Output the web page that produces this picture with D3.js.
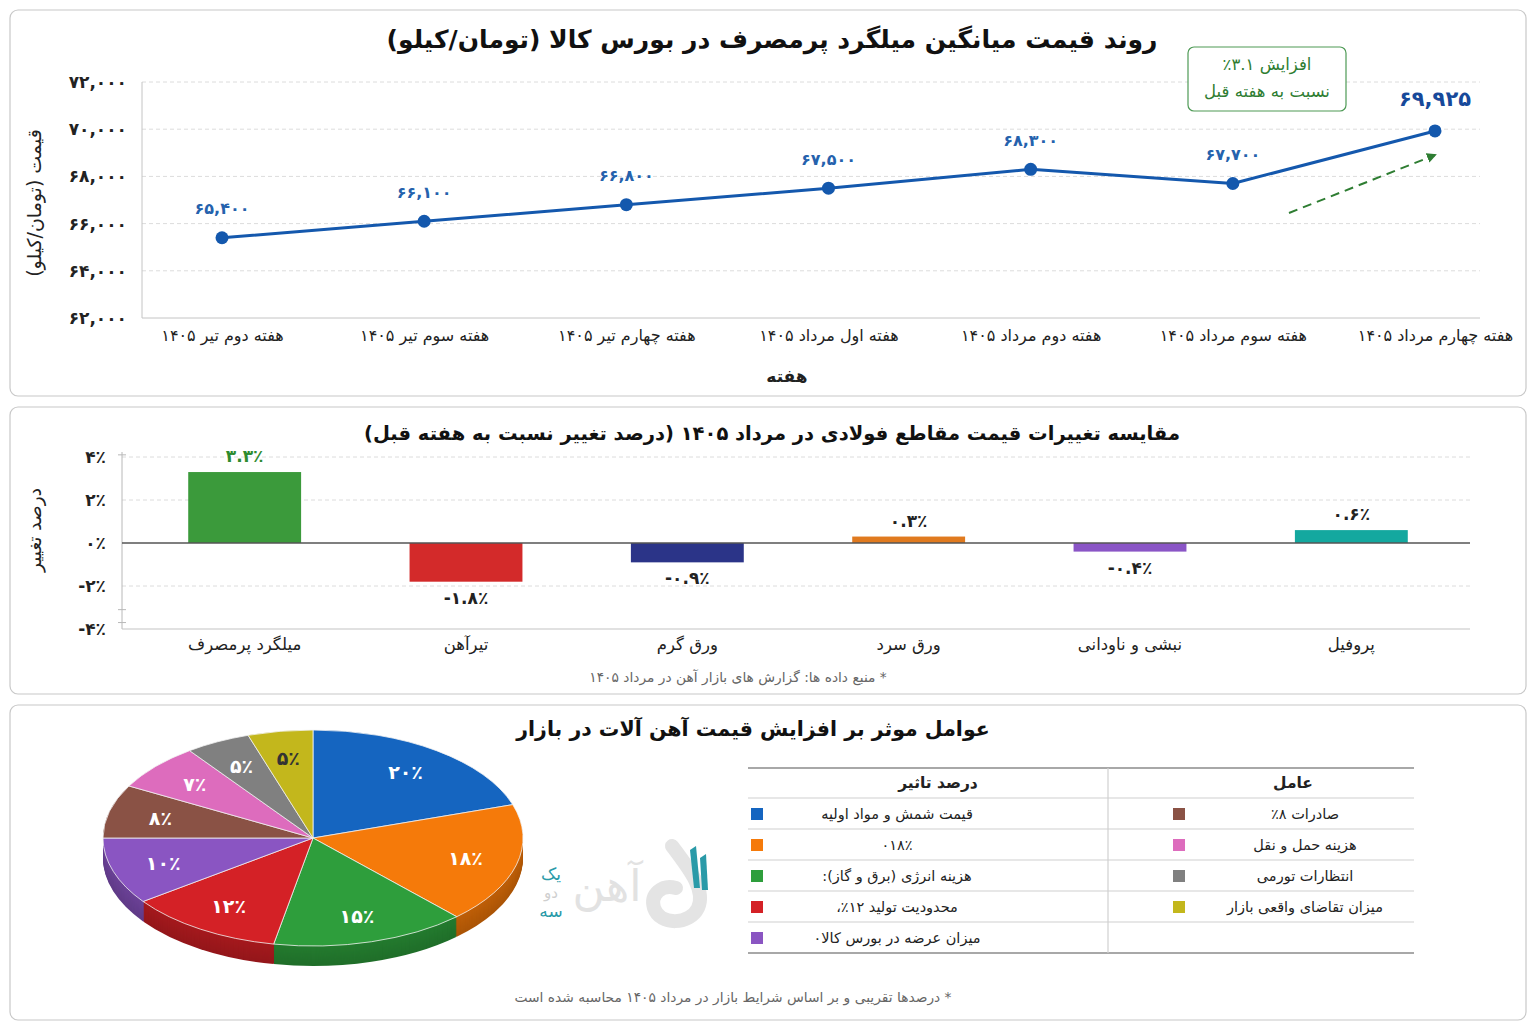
<!DOCTYPE html>
<html>
<head>
<meta charset="utf-8">
<script src="https://cdn.jsdelivr.net/npm/d3@7"></script>
<style>
  body { margin: 0; background: #fff; }
  svg { display: block; font-family: "DejaVu Sans", sans-serif; }
</style>
</head>
<body>
<svg id="chart" width="1536" height="1024"></svg>
<script>
// ---- data ----
const weeks = [
  "هفته دوم تیر ۱۴۰۵",
  "هفته سوم تیر ۱۴۰۵",
  "هفته چهارم تیر ۱۴۰۵",
  "هفته اول مرداد ۱۴۰۵",
  "هفته دوم مرداد ۱۴۰۵",
  "هفته سوم مرداد ۱۴۰۵",
  "هفته چهارم مرداد ۱۴۰۵",
];
const prices = [65400, 66100, 66800, 67500, 68300, 67700, 69925];
const priceTicks = [62000, 64000, 66000, 68000, 70000, 72000];

const sections = ["میلگرد پرمصرف", "تیرآهن", "ورق گرم", "ورق سرد", "نبشی و ناودانی", "پروفیل"];
const changes = [3.3, -1.8, -0.9, 0.3, -0.4, 0.6];
const changeTicks = [-4, -2, 0, 2, 4];

const factorNames = [
  "قیمت شمش و مواد اولیه",
  "۰۱۸٪",
  "هزینه انرژی (برق و گاز):",
  "محدودیت تولید  ۱۲٪،",
  "میزان عرضه در بورس کالا۰",
  "صادرات ۸٪",
  "هزینه حمل و نقل",
  "انتظارات تورمی",
  "میزان تقاضای واقعی بازار",
];
const factorShares = [20, 18, 15, 12, 10, 8, 7, 5, 5];

// ---- helpers ----
const faDigits = "۰۱۲۳۴۵۶۷۸۹";
function fa(s) {
  return String(s).replace(/[0-9]/g, (c) => faDigits[+c]);
}
const pctFmt = (v) => fa(v) + "٪";

const svg = d3.select("#chart");

function panel(y, h) {
  svg.append("rect")
    .attr("x", 10).attr("y", y)
    .attr("width", 1516).attr("height", h)
    .attr("rx", 8)
    .attr("fill", "#fff")
    .attr("stroke", "#c8c8c8")
    .attr("stroke-width", 1.2);
}
panel(10, 386);
panel(407, 287);
panel(705, 315);

function faText(g, x, y, str, size, weight, color) {
  return g.append("text")
    .attr("x", x).attr("y", y)
    .attr("text-anchor", "middle")
    .attr("direction", "rtl")
    .attr("dominant-baseline", "central")
    .style("font-size", size + "px")
    .style("font-weight", weight)
    .attr("fill", color)
    .text(str);
}

// =========== line chart ===========
const lineG = svg.append("g");
const x1 = d3.scalePoint().domain(weeks).range([222, 1435]);
const y1 = d3.scaleLinear().domain([62000, 72000]).range([318, 82]);

faText(lineG, 772, 39, "روند قیمت میانگین میلگرد پرمصرف در بورس کالا (تومان/کیلو)", 25, "bold", "#111");

// grid
lineG.selectAll(".grid1")
  .data(priceTicks.filter((d) => d > 62000))
  .enter().append("line")
  .attr("x1", 142).attr("x2", 1480)
  .attr("y1", (d) => y1(d)).attr("y2", (d) => y1(d))
  .attr("stroke", "#dcdcdc")
  .attr("stroke-dasharray", "4,3");

lineG.append("line").attr("x1", 142).attr("x2", 142).attr("y1", 82).attr("y2", 318)
  .attr("stroke", "#c4c4c4");
lineG.append("line").attr("x1", 142).attr("x2", 1480).attr("y1", 318).attr("y2", 318)
  .attr("stroke", "#c4c4c4");

// y tick labels
lineG.append("g")
  .attr("transform", "translate(142,0)")
  .call(d3.axisLeft(y1).tickValues(priceTicks).tickFormat((d) => fa(d3.format(",")(d))).tickSize(0).tickPadding(15))
  .call((g) => g.select(".domain").remove())
  .selectAll("text")
  .style("font-family", "DejaVu Sans")
  .style("font-size", "17px")
  .style("font-weight", "bold")
  .attr("fill", "#222");

// x tick labels
lineG.append("g")
  .attr("transform", "translate(0,318)")
  .call(d3.axisBottom(x1).tickSize(0).tickPadding(12))
  .call((g) => g.select(".domain").remove())
  .selectAll("text")
  .attr("direction", "rtl")
  .style("font-family", "DejaVu Sans")
  .style("font-size", "16px")
  .attr("fill", "#222");

faText(lineG, 787, 376, "هفته", 17, "bold", "#222");
faText(lineG, 0, 0, "قیمت (تومان/کیلو)", 19, "normal", "#222")
  .attr("transform", "translate(34,203) rotate(-90)");

// line
const pts = weeks.map((w, i) => ({ week: w, price: prices[i] }));
const priceLine = d3.line()
  .x((d) => x1(d.week))
  .y((d) => y1(d.price));

lineG.append("path")
  .datum(pts)
  .attr("d", priceLine)
  .attr("fill", "none")
  .attr("stroke", "#1458ad")
  .attr("stroke-width", 3)
  .attr("stroke-linejoin", "round");

lineG.selectAll(".dot")
  .data(pts)
  .enter().append("circle")
  .attr("cx", (d) => x1(d.week))
  .attr("cy", (d) => y1(d.price))
  .attr("r", 6.5)
  .attr("fill", "#1458ad");

lineG.selectAll(".plabel")
  .data(pts)
  .enter().append("text")
  .attr("x", (d) => x1(d.week))
  .attr("y", (d, i) => y1(d.price) - (i === pts.length - 1 ? 32 : 29))
  .attr("text-anchor", "middle")
  .attr("dominant-baseline", "central")
  .style("font-size", (d, i) => (i === pts.length - 1 ? "21px" : "16px"))
  .style("font-weight", "bold")
  .attr("fill", (d, i) => (i === pts.length - 1 ? "#17499a" : "#2562ad"))
  .text((d) => fa(d3.format(",")(d.price)));

// annotation box
lineG.append("rect")
  .attr("x", 1188).attr("y", 47).attr("width", 158).attr("height", 64)
  .attr("rx", 6)
  .attr("fill", "#fff")
  .attr("stroke", "#4e9a55")
  .attr("stroke-width", 1.2);
faText(lineG, 1267, 64, "افزایش ۳.۱٪", 16.5, "normal", "#2e7d32");
faText(lineG, 1267, 91, "نسبت به هفته قبل", 16.5, "normal", "#2e7d32");

// dashed trend arrow
const defs = svg.append("defs");
defs.append("marker")
  .attr("id", "arrow")
  .attr("viewBox", "0 0 10 10")
  .attr("refX", 8).attr("refY", 5)
  .attr("markerWidth", 5).attr("markerHeight", 5)
  .attr("orient", "auto")
  .append("path")
  .attr("d", "M0,0L10,5L0,10z")
  .attr("fill", "#2e7d32");

const lastX = x1(weeks[weeks.length - 1]);
lineG.append("line")
  .attr("x1", lastX - 146).attr("y1", y1(prices[6]) + 82)
  .attr("x2", lastX).attr("y2", y1(prices[6]) + 24)
  .attr("stroke", "#2e7d32")
  .attr("stroke-width", 2)
  .attr("stroke-dasharray", "9,6")
  .attr("marker-end", "url(#arrow)");

// =========== bar chart ===========
const barG = svg.append("g");
const x2 = d3.scaleBand().domain(sections).range([134, 1462]).paddingInner(0.49).paddingOuter(0.245);
const y2 = d3.scaleLinear().domain([-4, 4]).range([629, 457]);
const barColors = ["#3b9a3b", "#d32a2a", "#2b3488", "#e07a1f", "#8a55c6", "#14a89f"];

faText(barG, 772, 433, "مقایسه تغییرات قیمت مقاطع فولادی در مرداد ۱۴۰۵ (درصد تغییر نسبت به هفته قبل)", 19.5, "bold", "#111");

barG.selectAll(".grid2")
  .data([4, 2, -2])
  .enter().append("line")
  .attr("x1", 122).attr("x2", 1470)
  .attr("y1", (d) => y2(d)).attr("y2", (d) => y2(d))
  .attr("stroke", "#dcdcdc")
  .attr("stroke-dasharray", "4,3");

barG.append("line").attr("x1", 122).attr("x2", 122).attr("y1", 452).attr("y2", 629)
  .attr("stroke", "#b8b8b8");
barG.append("line").attr("x1", 122).attr("x2", 1470).attr("y1", 629).attr("y2", 629)
  .attr("stroke", "#c4c4c4").attr("stroke-width", 1.2);
// small stray ticks on the axis
barG.selectAll(".stick")
  .data([4.1, -3.1, -3.7])
  .enter().append("line")
  .attr("x1", 118).attr("x2", 126)
  .attr("y1", (d) => y2(d)).attr("y2", (d) => y2(d))
  .attr("stroke", "#b8b8b8");

barG.append("g")
  .attr("transform", "translate(122,0)")
  .call(d3.axisLeft(y2).tickValues(changeTicks).tickFormat((d) => (d < 0 ? "-" : "") + pctFmt(Math.abs(d))).tickSize(0).tickPadding(16))
  .call((g) => g.select(".domain").remove())
  .selectAll("text")
  .style("font-family", "DejaVu Sans")
  .style("font-size", "17px")
  .style("font-weight", "bold")
  .attr("fill", "#222");

barG.selectAll(".bar")
  .data(sections)
  .enter().append("rect")
  .attr("x", (d) => x2(d))
  .attr("width", x2.bandwidth())
  .attr("y", (d, i) => y2(Math.max(0, changes[i])))
  .attr("height", (d, i) => Math.abs(y2(changes[i]) - y2(0)))
  .attr("fill", (d, i) => barColors[i]);

barG.append("line").attr("x1", 122).attr("x2", 1470).attr("y1", y2(0)).attr("y2", y2(0))
  .attr("stroke", "#555").attr("stroke-width", 1.5);

barG.selectAll(".blabel")
  .data(sections)
  .enter().append("text")
  .attr("x", (d) => x2(d) + x2.bandwidth() / 2)
  .attr("y", (d, i) => (changes[i] >= 0 ? y2(changes[i]) - 16 : y2(changes[i]) + 16))
  .attr("text-anchor", "middle")
  .attr("dominant-baseline", "central")
  .style("font-size", "17px")
  .style("font-weight", "bold")
  .attr("fill", (d, i) => (i === 0 ? "#2e8b2e" : "#222"))
  .text((d, i) => (changes[i] < 0 ? "-" : "") + pctFmt(Math.abs(changes[i])));

barG.append("g")
  .attr("transform", "translate(0,629)")
  .call(d3.axisBottom(x2).tickSize(0).tickPadding(9))
  .call((g) => g.select(".domain").remove())
  .selectAll("text")
  .attr("direction", "rtl")
  .style("font-family", "DejaVu Sans")
  .style("font-size", "16.5px")
  .attr("fill", "#222");

faText(barG, 0, 0, "درصد تغییر", 18.5, "normal", "#222")
  .attr("transform", "translate(34,530) rotate(-90)");
faText(barG, 738, 677, "* منبع داده ها: گزارش های بازار آهن در مرداد ۱۴۰۵", 13.8, "normal", "#666");

// =========== pie chart ===========
const pieG = svg.append("g");
const pieColors = ["#1565c0", "#f57a0a", "#2e9e3c", "#d42126", "#8a55c2", "#8a5245", "#dd6cbd", "#808080", "#c3b71c"];

faText(pieG, 753, 729, "عوامل موثر بر افزایش قیمت آهن آلات در بازار", 20.5, "bold", "#111");

const cx = 313, cy = 838, rx = 210, ry = 108, depth = 20;
const pieData = d3.pie().sort(null).value((d) => d)(factorShares);
const arc = d3.arc().innerRadius(0).outerRadius(rx);

// side walls: stack darker copies from the bottom up
for (let k = depth; k >= 1; k--) {
  pieG.append("g")
    .attr("transform", `translate(${cx},${cy + k}) scale(1,${ry / rx})`)
    .selectAll("path")
    .data(pieData)
    .enter().append("path")
    .attr("d", arc)
    .attr("fill", (d, i) => d3.color(pieColors[i]).darker(0.7 + 0.3 * (k / depth)));
}
pieG.append("g")
  .attr("transform", `translate(${cx},${cy}) scale(1,${ry / rx})`)
  .selectAll("path")
  .data(pieData)
  .enter().append("path")
  .attr("d", arc)
  .attr("fill", (d, i) => pieColors[i])
  .attr("stroke", "#f2f2f2")
  .attr("stroke-width", 0.8)
  .attr("vector-effect", "non-scaling-stroke");

const labelArc = d3.arc().innerRadius(rx * 0.75).outerRadius(rx * 0.75);
pieG.selectAll(".slabel")
  .data(pieData)
  .enter().append("text")
  .attr("x", (d) => cx + labelArc.centroid(d)[0])
  .attr("y", (d) => cy + labelArc.centroid(d)[1] * ry / rx)
  .attr("text-anchor", "middle")
  .attr("dominant-baseline", "central")
  .style("font-size", "19px")
  .style("font-weight", "bold")
  .attr("fill", (d, i) => (i === pieData.length - 1 ? "#333" : "#fff"))
  .text((d) => pctFmt(d.data));

// watermark logo
const wm = svg.append("g");
wm.append("path")
  .attr("d", "M672,846 C690,870 706,890 698,908 C690,925 660,926 654,908 C650,894 662,884 676,888")
  .attr("fill", "none").attr("stroke", "#e4e4e4").attr("stroke-width", 14).attr("stroke-linecap", "round");
wm.append("path").attr("d", "M690,850 L696,846 L700,888 L694,888 Z").attr("fill", "#2a9aa8");
wm.append("path").attr("d", "M700,858 L706,854 L708,890 L702,890 Z").attr("fill", "#2a9aa8");
faText(wm, 607, 885, "آهن", 44, "normal", "#e2e2e2");
faText(wm, 551, 874, "یک", 17, "normal", "#2a9aa8");
faText(wm, 551, 893, "دو", 15, "normal", "#cfcfcf");
faText(wm, 551, 911, "سه", 17, "normal", "#2a9aa8");

// legend table
const tbl = svg.append("g");
const rowY = [814, 845, 876, 907, 938];
[768, 953].forEach((y) => tbl.append("line").attr("x1", 748).attr("x2", 1414).attr("y1", y).attr("y2", y)
  .attr("stroke", "#a8a8a8").attr("stroke-width", 2));
[798, 829, 860, 891, 922].forEach((y) => tbl.append("line").attr("x1", 748).attr("x2", 1414).attr("y1", y).attr("y2", y)
  .attr("stroke", "#d0d0d0").attr("stroke-width", 1.2));
tbl.append("line").attr("x1", 1108).attr("x2", 1108).attr("y1", 768).attr("y2", 953)
  .attr("stroke", "#d0d0d0").attr("stroke-width", 1.2);

faText(tbl, 938, 783, "درصد تاثیر", 15.5, "bold", "#222");
faText(tbl, 1293, 783, "عامل", 15.5, "bold", "#222");

factorNames.forEach((name, i) => {
  const left = i < 5;
  const y = rowY[left ? i : i - 5];
  tbl.append("rect")
    .attr("x", left ? 751 : 1173).attr("y", y - 6)
    .attr("width", 12).attr("height", 12)
    .attr("fill", pieColors[i]);
  faText(tbl, left ? 897 : 1305, y, name, 14.5, "normal", "#222");
});

faText(svg, 733, 997, "* درصدها تقریبی و بر اساس شرایط بازار در مرداد ۱۴۰۵ محاسبه شده است", 13.8, "normal", "#666");
</script>
</body>
</html>
